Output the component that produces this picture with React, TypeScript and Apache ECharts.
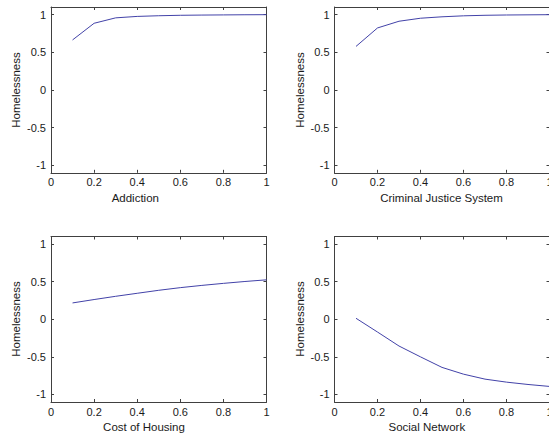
import React, { useEffect, useRef } from "react";
import * as echarts from "echarts";

const xValues = [0.1, 0.2, 0.3, 0.4, 0.5, 0.6, 0.7, 0.8, 0.9, 1.0];
const addiction = [0.663, 0.884, 0.956, 0.975, 0.984, 0.99, 0.993, 0.995, 0.997, 0.998];
const criminalJustice = [0.577, 0.822, 0.911, 0.951, 0.97, 0.983, 0.99, 0.994, 0.996, 0.998];
const costOfHousing = [0.217, 0.262, 0.305, 0.345, 0.385, 0.42, 0.45, 0.477, 0.502, 0.524];
const socialNetwork = [0.013, -0.17, -0.356, -0.5, -0.64, -0.73, -0.796, -0.836, -0.867, -0.893];
const yTicks = [-1, -0.5, 0, 0.5, 1];
const xLabels = ["Addiction", "Criminal Justice System", "Cost of Housing", "Social Network"];
const yLabel = "Homelessness";

const FONT = "'Liberation Sans', Arial, sans-serif";
const AXIS_COLOR = "#404040";
const TEXT_COLOR = "#1a1a1a";
const LINE_COLOR = "#4242a8";

const grids = [
  { left: 51, top: 7, width: 215.5, height: 165.8 },
  { left: 334.5, top: 7, width: 215, height: 165.8 },
  { left: 51, top: 236.5, width: 215.5, height: 165.5 },
  { left: 334.5, top: 236.5, width: 215, height: 165.5 },
];
const xTitlePos = [
  [135.3, 197.8],
  [441.5, 197.8],
  [144, 426.8],
  [426.8, 426.8],
];
const yTitlePos = [
  [16, 90],
  [300, 90],
  [16, 319],
  [300, 319],
];

export default function App() {
  const ref = useRef<HTMLDivElement>(null);
  useEffect(() => {
    if (!ref.current) return;
    const chart = echarts.init(ref.current, null, { renderer: "svg" });
    const seriesData = [addiction, criminalJustice, costOfHousing, socialNetwork];
    const xAxis: any[] = [];
    const yAxis: any[] = [];
    const series: any[] = [];
    const graphic: any[] = [];
    grids.forEach((g, i) => {
      const lineStyle = { color: AXIS_COLOR, width: 1 };
      const tick = { show: true, inside: true, length: 3, lineStyle };
      xAxis.push({
        type: "value", gridIndex: i, position: "bottom", min: 0, max: 1, interval: 0.2,
        axisLine: { show: true, onZero: false, lineStyle },
        axisTick: tick,
        axisLabel: { show: true, margin: 4, fontSize: 11, fontFamily: FONT, color: TEXT_COLOR },
        splitLine: { show: false },
      });
      xAxis.push({
        type: "value", gridIndex: i, position: "top", min: 0, max: 1, interval: 0.2,
        axisLine: { show: true, onZero: false, lineStyle },
        axisTick: tick,
        axisLabel: { show: false },
        splitLine: { show: false },
      });
      yAxis.push({
        type: "value", gridIndex: i, position: "left", min: -1.1, max: 1.1,
        axisLine: { show: true, onZero: false, lineStyle },
        axisTick: { ...tick, customValues: yTicks },
        axisLabel: { show: true, margin: 5, fontSize: 11, fontFamily: FONT, color: TEXT_COLOR, customValues: yTicks },
        splitLine: { show: false },
      });
      yAxis.push({
        type: "value", gridIndex: i, position: "right", min: -1.1, max: 1.1,
        axisLine: { show: true, onZero: false, lineStyle },
        axisTick: { ...tick, customValues: yTicks },
        axisLabel: { show: false },
        splitLine: { show: false },
      });
      series.push({
        type: "line",
        xAxisIndex: i * 2,
        yAxisIndex: i * 2,
        data: xValues.map((x, k) => [x, seriesData[i][k]]),
        showSymbol: false,
        symbol: "none",
        lineStyle: { color: LINE_COLOR, width: 1 },
        itemStyle: { color: LINE_COLOR },
      });
      graphic.push({
        type: "text", x: xTitlePos[i][0], y: xTitlePos[i][1],
        style: { text: xLabels[i], fontSize: 11.5, fontFamily: FONT, fill: TEXT_COLOR, textAlign: "center", textVerticalAlign: "middle" },
      });
      graphic.push({
        type: "text", x: yTitlePos[i][0], y: yTitlePos[i][1], rotation: Math.PI / 2,
        style: { text: yLabel, fontSize: 11.5, fontFamily: FONT, fill: TEXT_COLOR, textAlign: "center", textVerticalAlign: "middle" },
      });
    });
    chart.setOption({
      animation: false,
      backgroundColor: "#ffffff",
      grid: grids.map((g) => ({ ...g, containLabel: false, outerBoundsMode: "none" })),
      xAxis,
      yAxis,
      series,
      graphic,
    });
    return () => chart.dispose();
  }, []);
  return (
    <div
      ref={ref}
      style={{ position: "fixed", left: 0, top: 0, width: 549, height: 436, background: "#fff" }}
    />
  );
}
